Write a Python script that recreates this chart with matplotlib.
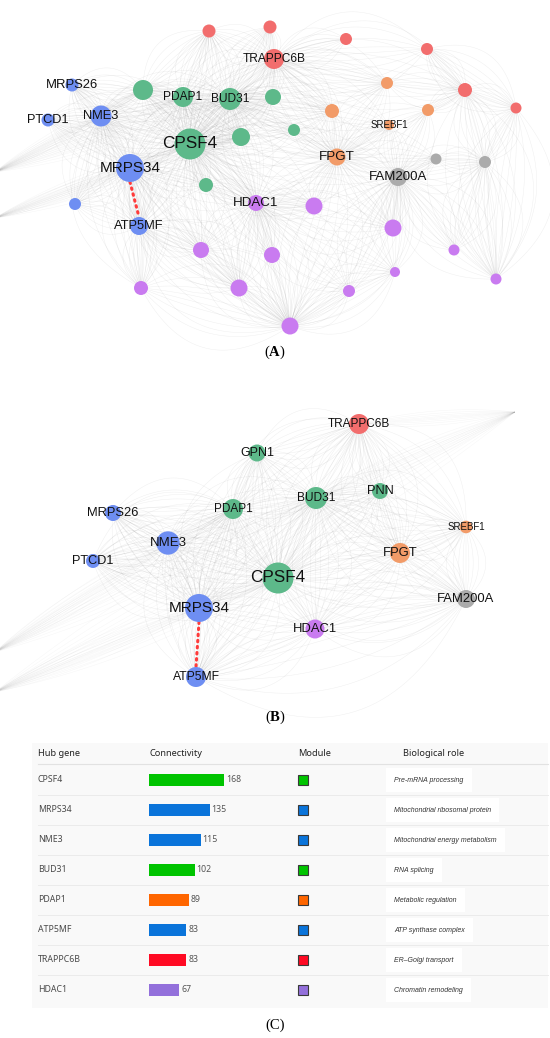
import numpy as np
import matplotlib.pyplot as plt
from matplotlib.collections import LineCollection
from matplotlib.patches import Rectangle

plt.rcParams['mathtext.fontset'] = 'custom'
plt.rcParams['mathtext.rm'] = 'Liberation Serif'
plt.rcParams['mathtext.bf'] = 'Liberation Serif:bold'

# module colours in the network panels
mod_colors = {'blue': '#6E8EF2', 'green': '#5DB98A', 'red': '#F26D6D',
              'orange': '#F29B68', 'grey': '#ABABAB', 'purple': '#C97BF0'}

# ---- panel A network (layout in pixels) ----
a_names = ['MRPS26', 'PTCD1', 'NME3', 'MRPS34', 'ATP5MF', 'b1',
           'g1', 'PDAP1', 'BUD31', 'g2', 'g3', 'CPSF4', 'g4', 'g5',
           'r1', 'r2', 'TRAPPC6B', 'r3', 'r4', 'r5', 'r6',
           'o1', 'o2', 'o3', 'SREBF1', 'FPGT',
           'k1', 'k2', 'FAM200A',
           'HDAC1', 'p1', 'p2', 'p3', 'p4', 'p5', 'p6', 'p7', 'p8', 'p9', 'p10', 'p11']
a_x = [72, 48, 101, 130, 139, 75,
       143, 183, 230, 273, 241, 190, 206, 294,
       209, 270, 274, 346, 427, 465, 516,
       387, 332, 428, 389, 337,
       436, 485, 398,
       256, 314, 393, 201, 272, 454, 395, 496, 141, 239, 349, 290]
a_y = [85, 120, 116, 168, 226, 204,
       90, 97, 99, 97, 137, 144, 185, 130,
       31, 27, 59, 39, 49, 90, 108,
       83, 111, 110, 125, 157,
       159, 162, 177,
       203, 206, 228, 250, 255, 250, 272, 279, 288, 288, 291, 326]
a_r = [6.5, 6.5, 10.5, 14, 9, 6,
       10, 10, 11, 8, 9, 15.5, 7, 6,
       6.5, 6.5, 10, 6, 6, 7, 5.5,
       6, 7, 6, 5, 8.5,
       5.5, 6, 9,
       8, 8.5, 8.5, 8, 8, 5.5, 5, 5.5, 7, 8.5, 6, 8.5]
a_mod = ['blue'] * 6 + ['green'] * 8 + ['red'] * 7 + ['orange'] * 5 + ['grey'] * 3 + ['purple'] * 12
a_fs = {'MRPS26': 9.4, 'PTCD1': 9.2, 'NME3': 9.3, 'MRPS34': 11, 'ATP5MF': 9.3,
        'PDAP1': 8.6, 'BUD31': 8.6, 'CPSF4': 12.3, 'TRAPPC6B': 8.6,
        'SREBF1': 7, 'FPGT': 9.7, 'FAM200A': 9.5, 'HDAC1': 9.6}
a_hidden = {'L1': (-5, 172), 'L2': (-5, 218)}
a_edges = {
    'CPSF4': ['MRPS34', 'NME3', 'PDAP1', 'BUD31', 'g1', 'g2', 'g3', 'g4', 'g5', 'HDAC1',
              'FPGT', 'ATP5MF', 'MRPS26', 'PTCD1', 'TRAPPC6B', 'p1', 'p3', 'p4', 'p9',
              'FAM200A', 'o2', 'r1', 'r2'],
    'MRPS34': ['NME3', 'ATP5MF', 'PTCD1', 'MRPS26', 'b1', 'PDAP1', 'BUD31', 'p3', 'p8',
               'p9', 'g4', 'HDAC1'],
    'NME3': ['PTCD1', 'MRPS26', 'PDAP1', 'BUD31', 'g1', 'ATP5MF', 'b1', 'p8'],
    'BUD31': ['PDAP1', 'g1', 'g2', 'g3', 'g5', 'TRAPPC6B', 'r1', 'r2', 'FPGT', 'o2',
              'HDAC1', 'SREBF1', 'o1'],
    'PDAP1': ['g1', 'g3', 'r1', 'TRAPPC6B', 'HDAC1', 'ATP5MF'],
    'TRAPPC6B': ['r1', 'r2', 'r3', 'r4', 'o1', 'o2', 'g2', 'FPGT', 'r5'],
    'FPGT': ['o1', 'o2', 'o3', 'SREBF1', 'FAM200A', 'k1', 'p1', 'p2', 'p11', 'HDAC1', 'g5'],
    'FAM200A': ['k1', 'k2', 'SREBF1', 'o3', 'p2', 'p5', 'p6', 'p10', 'p11', 'p7'],
    'HDAC1': ['p1', 'p2', 'p3', 'p4', 'p9', 'p10', 'p11', 'g4', 'p6'],
    'ATP5MF': ['b1', 'p3', 'p8', 'p9', 'p11'],
    'r5': ['r4', 'r6', 'o3', 'k2', 'p7', 'o1'],
    'r6': ['k2', 'p7', 'r4'],
    'k2': ['p7', 'p5', 'k1'],
    'p11': ['p3', 'p4', 'p8', 'p9', 'p10', 'p6'],
    'g1': ['MRPS26', 'r1', 'g3'],
}
a_ribbons = {'L1': ['NME3', 'PDAP1', 'BUD31', 'g1'], 'L2': ['MRPS34', 'CPSF4', 'g3']}

# ---- panel B network ----
b_names = ['TRAPPC6B', 'GPN1', 'PNN', 'BUD31', 'PDAP1', 'MRPS26', 'SREBF1', 'NME3',
           'FPGT', 'PTCD1', 'CPSF4', 'FAM200A', 'MRPS34', 'HDAC1', 'ATP5MF']
b_x = [359, 257, 380, 316, 233, 113, 466, 168, 400, 93, 278, 466, 199, 315, 196]
b_y = [424, 453, 491, 498, 509, 513, 527, 543, 553, 561, 578, 599, 608, 629, 677]
b_r = [10, 8.5, 8, 11, 10, 8, 6.3, 11.7, 10, 7, 15.5, 9, 14, 9.5, 10]
b_mod = ['red', 'green', 'green', 'green', 'green', 'blue', 'orange', 'blue',
         'orange', 'blue', 'green', 'grey', 'blue', 'purple', 'blue']
b_fs = {'TRAPPC6B': 8.5, 'GPN1': 9, 'PNN': 9.3, 'BUD31': 8.6, 'PDAP1': 8.5,
        'MRPS26': 9.3, 'SREBF1': 7, 'NME3': 9.5, 'FPGT': 9.4, 'PTCD1': 9.1,
        'CPSF4': 12.3, 'FAM200A': 9.4, 'MRPS34': 11, 'HDAC1': 9.4, 'ATP5MF': 8.7}
b_hidden = {'L1': (-5, 692), 'L2': (-5, 652), 'U1': (515, 412)}
b_edges = {
    'CPSF4': ['TRAPPC6B', 'GPN1', 'PNN', 'BUD31', 'PDAP1', 'MRPS26', 'SREBF1', 'NME3',
              'FPGT', 'PTCD1', 'FAM200A', 'MRPS34', 'HDAC1', 'ATP5MF'],
    'MRPS34': ['NME3', 'PTCD1', 'MRPS26', 'ATP5MF', 'PDAP1', 'BUD31', 'HDAC1', 'GPN1'],
    'BUD31': ['PDAP1', 'GPN1', 'PNN', 'TRAPPC6B', 'FPGT', 'SREBF1', 'HDAC1', 'NME3',
              'FAM200A'],
    'PDAP1': ['GPN1', 'NME3', 'MRPS26', 'PTCD1', 'TRAPPC6B', 'ATP5MF'],
    'NME3': ['PTCD1', 'MRPS26', 'ATP5MF'],
    'FPGT': ['SREBF1', 'FAM200A', 'HDAC1', 'PNN', 'TRAPPC6B'],
    'HDAC1': ['ATP5MF', 'FAM200A'],
    'TRAPPC6B': ['GPN1', 'PNN', 'SREBF1'],
    'FAM200A': ['SREBF1', 'ATP5MF'],
}
b_ribbons = {'L1': ['U1', 'MRPS34', 'CPSF4'], 'L2': ['NME3', 'PDAP1', 'BUD31'],
             'U1': ['BUD31', 'TRAPPC6B']}

# ---- panel C table ----
hub_genes = ['CPSF4', 'MRPS34', 'NME3', 'BUD31', 'PDAP1', 'ATP5MF', 'TRAPPC6B', 'HDAC1']
connectivity = [168, 135, 115, 102, 89, 83, 83, 67]
module_colors = ['#00C400', '#0A74DA', '#0A74DA', '#00C400', '#FF6600', '#0A74DA', '#FF0A23', '#9370DB']
roles = ['Pre-mRNA processing', 'Mitochondrial ribosomal protein', 'Mitochondrial energy metabolism',
         'RNA splicing', 'Metabolic regulation', 'ATP synthase complex', 'ER\u2013Golgi transport',
         'Chromatin remodeling']
headers = ['Hub gene', 'Connectivity', 'Module', 'Biological role']

EDGE_RADS = [-0.55, -0.35, -0.2, -0.08, 0.0, 0.08, 0.2, 0.35, 0.55]
RIBBON_RADS = [-0.09, -0.06, -0.035, -0.015, 0.0, 0.015, 0.035, 0.06, 0.09]


def bezier(p, q, rad, n=40):
    p = np.asarray(p, float)
    q = np.asarray(q, float)
    d = q - p
    ctrl = (p + q) / 2 + rad * np.array([-d[1], d[0]])
    t = np.linspace(0, 1, n)[:, None]
    return (1 - t) ** 2 * p + 2 * (1 - t) * t * ctrl + t ** 2 * q


def draw_network(ax, names, xs, ys, rs, mods, fsizes, hidden, edges, ribbons):
    pos = {n: (x, y) for n, x, y in zip(names, xs, ys)}
    pos.update(hidden)
    segs = []
    for hub, nbrs in edges.items():
        for nb in nbrs:
            for rad in EDGE_RADS:
                segs.append(bezier(pos[hub], pos[nb], rad))
    ax.add_collection(LineCollection(segs, colors='#808080', linewidths=0.35, alpha=0.13, zorder=1))
    rib = []
    for hub, nbrs in ribbons.items():
        for nb in nbrs:
            for rad in RIBBON_RADS:
                rib.append(bezier(pos[hub], pos[nb], rad))
    ax.add_collection(LineCollection(rib, colors='#808080', linewidths=0.35, alpha=0.07, zorder=1))
    # dotted link MRPS34 - ATP5MF
    i, j = names.index('MRPS34'), names.index('ATP5MF')
    ax.plot([xs[i], xs[j]], [ys[i] + rs[i], ys[j] - rs[j]], color='#FF3B3B', lw=2.2,
            linestyle=(0, (0.5, 1.5)), dash_capstyle='round', zorder=2)
    sizes = [(1.44 * r) ** 2 for r in rs]
    ax.scatter(xs, ys, s=sizes, c=[mod_colors[m] for m in mods], linewidths=0, zorder=3)
    for n, x, y in zip(names, xs, ys):
        if n in fsizes:
            ax.text(x, y, n, fontsize=fsizes[n], family='Liberation Sans', color='#111111',
                    ha='center', va='center', zorder=4)


fig = plt.figure(figsize=(5.5, 10.38), dpi=100)
ax = fig.add_axes([0, 0, 1, 1])
ax.set_xlim(0, 550)
ax.set_ylim(1038, 0)
ax.axis('off')

draw_network(ax, a_names, a_x, a_y, a_r, a_mod, a_fs, a_hidden, a_edges, a_ribbons)
draw_network(ax, b_names, b_x, b_y, b_r, b_mod, b_fs, b_hidden, b_edges, b_ribbons)

for lab, y in [(r'($\mathbf{A}$)', 352), (r'($\mathbf{B}$)', 717), ('(C)', 1025)]:
    ax.text(275, y, lab, fontsize=10.5, family='Liberation Serif', ha='center', va='center')

# table
row_y = [780 + 30 * i for i in range(len(hub_genes))]
ax.add_patch(Rectangle((32, 743), 516, 265, fc='#F9F9F9', ec='none', zorder=0))
for hx, h in zip([38, 150, 298, 403], headers):
    ax.text(hx, 754, h, fontsize=6.6, family='Noto Sans', weight='bold', color='#222222',
            va='center', ha='left')
ax.plot([38, 548], [764, 764], color='#E2E2E2', lw=0.8)
for y in row_y[:-1]:
    ax.plot([38, 548], [y + 15, y + 15], color='#EBEBEB', lw=0.7)

for y, g, c, role in zip(row_y, hub_genes, module_colors, roles):
    ax.text(38, y, g, fontsize=6.3, family='Noto Sans', color='#4a4a4a', va='center')
    ax.add_patch(Rectangle((298, y - 5), 10, 10, fc=c, ec='#3a3a3a', lw=0.8, zorder=2))
    ax.text(394, y, role, fontsize=5, family='Liberation Sans', style='italic', color='#333333',
            va='center', ha='left',
            bbox=dict(boxstyle='square,pad=1.2', fc='white', ec='none'))

# connectivity bars in their own axes: x = connectivity value
bar_ax = fig.add_axes([149.5 / 550, 1 - 1005 / 1038, 400 / 550, 240 / 1038])
bar_ax.barh(range(len(hub_genes)), connectivity, height=0.38, color=module_colors)
for i, v in enumerate(connectivity):
    bar_ax.text(v + 4, i, str(v), fontsize=6.3, family='Noto Sans', color='#555555', va='center')
bar_ax.set_xlim(0, 400 / 0.445)
bar_ax.set_ylim(len(hub_genes) - 0.5, -0.5)
bar_ax.axis('off')

fig.savefig('out.png', dpi=100)
